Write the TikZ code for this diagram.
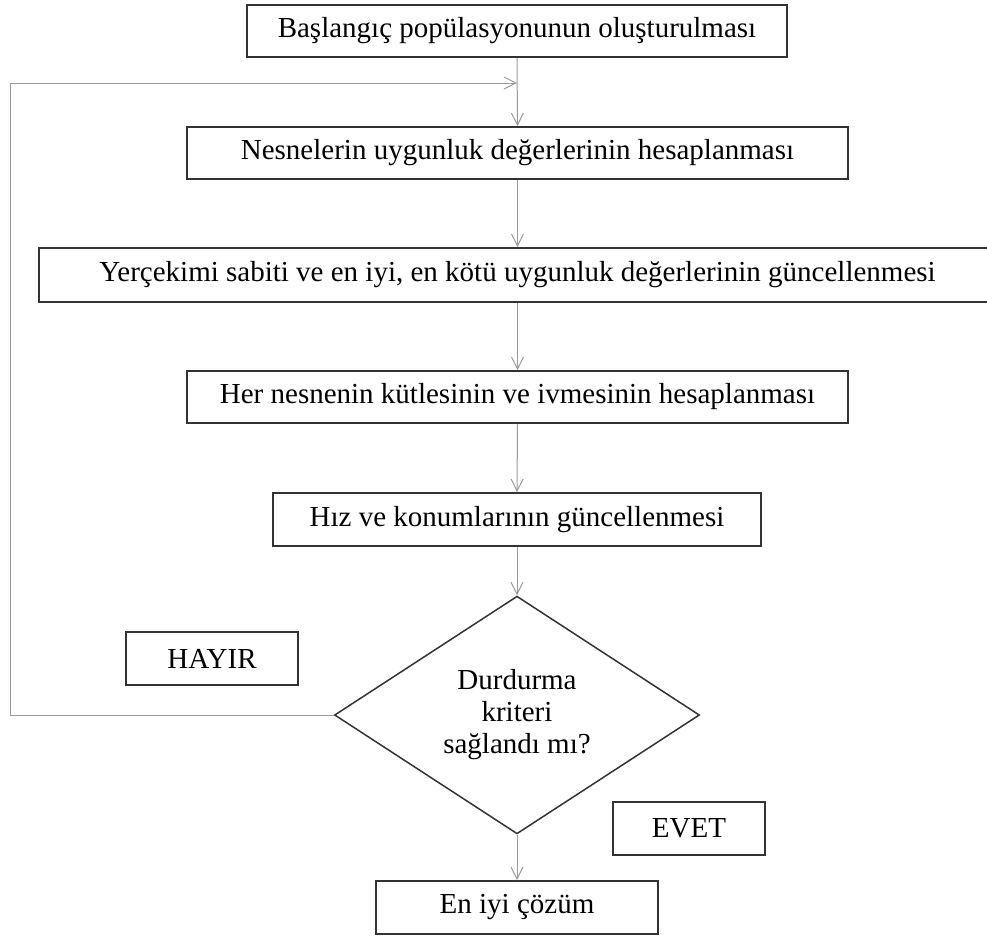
\documentclass[tikz,border=0pt]{standalone}
\usepackage{fontspec}
\setmainfont{Liberation Serif}
\usetikzlibrary{arrows.meta,shapes.geometric}
\definecolor{boxline}{HTML}{333333}
\definecolor{arrline}{HTML}{9A9A9A}
\begin{document}
\begin{tikzpicture}[x=1pt,y=-1pt,
  every node/.style={font=\fontsize{29}{32}\selectfont},
  stepbox/.style={draw=boxline,line width=1.8pt,rectangle,inner sep=0pt,align=center},
  decbox/.style={draw=boxline,line width=1.5pt,diamond,inner sep=0pt,align=center,minimum width=365pt,minimum height=200pt},
  flow/.style={draw=arrline,line width=1pt,-{Straight Barb[length=12pt,width=12pt,line width=1pt]}},
  plain/.style={draw=arrline,line width=1pt}]
\useasboundingbox[fill=white] (0,0) rectangle (987,935);
\node[stepbox,minimum width=540pt,minimum height=52pt] (b1) at (517,31) {Başlangıç popülasyonunun oluşturulması};
\node[stepbox,minimum width=661pt,minimum height=52pt] (b2) at (517.5,153) {Nesnelerin uygunluk değerlerinin hesaplanması};
\node[stepbox,minimum width=957pt,minimum height=54pt] (b3) at (517.5,275) {Yerçekimi sabiti ve en iyi, en kötü uygunluk değerlerinin güncellenmesi};
\node[stepbox,minimum width=661pt,minimum height=52pt] (b4) at (517.5,397) {Her nesnenin kütlesinin ve ivmesinin hesaplanması};
\node[stepbox,minimum width=488pt,minimum height=53pt] (b5) at (517,519.5) {Hız ve konumlarının güncellenmesi};
\node[decbox] (d) at (517,715) {Durdurma\\kriteri\\sağlandı mı?};
\node[stepbox,minimum width=172pt,minimum height=53pt] (no) at (212,658.5) {HAYIR};
\node[stepbox,minimum width=152pt,minimum height=53pt] (yes) at (689,828.5) {EVET};
\node[stepbox,minimum width=282pt,minimum height=53pt] (end) at (517,907.5) {En iyi çözüm};
\coordinate (join) at (517,83);
\coordinate (lc) at (10,715);
\draw[flow] (b1.south) -- (b2.north);
\draw[flow] (b2.south) -- (b3.north);
\draw[flow] (b3.south) -- (b4.north);
\draw[flow] (b4.south) -- (b5.north);
\draw[flow] (b5.south) -- (d.north);
\draw[flow] (d.south) -- (end.north);
\draw[flow] (d.west) -- (lc) |- (join);
\end{tikzpicture}
\end{document}
